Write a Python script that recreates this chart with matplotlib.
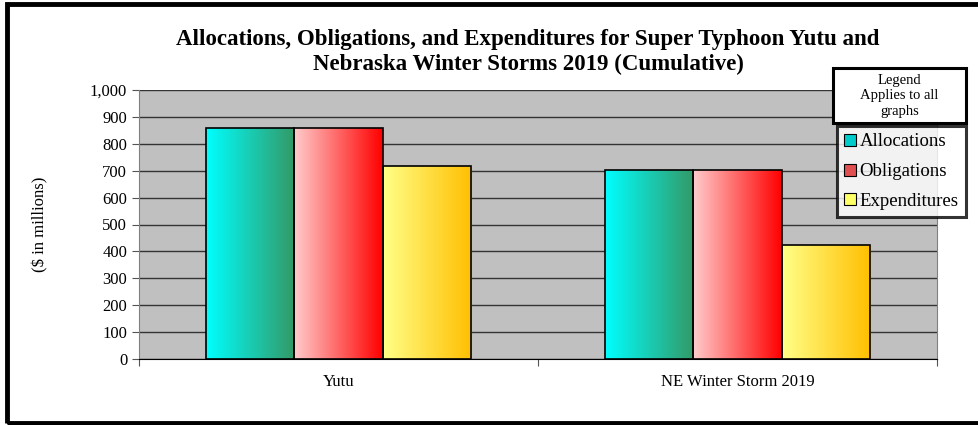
import numpy as np
from matplotlib import pyplot as plt
from matplotlib.patches import Patch, Rectangle
from matplotlib.colors import LinearSegmentedColormap

categories = ["Yutu", "NE Winter Storm 2019"]
series = ["Allocations", "Obligations", "Expenditures"]
allocations = [860, 704]
obligations = [860, 704]
expenditures = [716, 424]
yticks = [0, 100, 200, 300, 400, 500, 600, 700, 800, 900, 1000]

grads = [("#00ffff", "#339966"), ("#ffcccc", "#ff0000"), ("#ffff88", "#ffbf00")]
solid = ["#00cccc", "#e05050", "#ffff66"]

plt.rcParams['font.family'] = ['Liberation Serif', 'DejaVu Serif']

fig = plt.figure(figsize=(9.79, 4.25), dpi=100)
ax = fig.add_axes([139/979, 1-359/425, 798/979, 269/425])
ax.set_facecolor("#c0c0c0")

x = np.arange(len(categories))
w = 0.221
vals = [allocations, obligations, expenditures]
grad = np.linspace(0, 1, 256).reshape(1, -1)
for i, v in enumerate(vals):
    bars = ax.bar(x + (i - 1) * w, v, w, facecolor="none", edgecolor="black", linewidth=1.2, zorder=4)
    cmap = LinearSegmentedColormap.from_list("g%d" % i, grads[i])
    for b in bars:
        im = ax.imshow(grad, cmap=cmap, aspect="auto", zorder=3,
                       extent=[b.get_x(), b.get_x() + b.get_width(), 0, b.get_height()])
        im.set_clip_path(b)

ax.set_xlim(-0.5, 1.5)
ax.set_ylim(0, 1000)
ax.set_yticks(yticks)
ax.set_yticklabels(["{:,}".format(t) for t in yticks], fontsize=12)
ax.set_xticks([-0.5, 0.5, 1.5])
ax.set_xticklabels([])
ax.set_xticks(x, minor=True)
ax.set_xticklabels(categories, minor=True, fontsize=12)
ax.tick_params(axis="x", which="minor", length=0, pad=11)
ax.tick_params(axis="x", which="major", length=5, direction="out", color="#555555")
ax.tick_params(axis="y", length=5, direction="out", color="#555555")
ax.yaxis.grid(True, color="#333333", linewidth=1.0)
ax.set_axisbelow(True)
for s in ["left", "right", "top"]:
    ax.spines[s].set_color("#808080")
ax.spines["top"].set_visible(False)
ax.spines["bottom"].set_color("black")
ax.set_ylabel("($ in millions)", fontsize=12, labelpad=30)

fig.text(528/979, 1-40/425, "Allocations, Obligations, and Expenditures for Super Typhoon Yutu and",
         ha="center", va="center", fontsize=16.5, fontweight="bold")
fig.text(528/979, 1-64/425, "Nebraska Winter Storms 2019 (Cumulative)",
         ha="center", va="center", fontsize=16.5, fontweight="bold")

# outer border
fig.patches.append(Rectangle((7/979, 1-423/425), 975/979, 419/425, transform=fig.transFigure,
                             fill=False, edgecolor="black", linewidth=3.5, zorder=0))

# legend title box
fig.patches.append(Rectangle((833/979, 1-123/425), 133/979, 55/425, transform=fig.transFigure,
                             facecolor="white", edgecolor="black", linewidth=2.2, zorder=5))
fig.text(899.5/979, 1-96/425, "Legend\nApplies to all\ngraphs", ha="center", va="center",
         fontsize=10.5, linespacing=1.25, zorder=6)

handles = [Patch(facecolor=solid[i], edgecolor="black", linewidth=0.8) for i in range(3)]
leg = fig.legend(handles, series, loc="upper right", bbox_to_anchor=(966/979, 1-126/425),
                 fontsize=13.5, frameon=True, fancybox=False, edgecolor="black",
                 handlelength=0.6, handleheight=0.6, handletextpad=0.2,
                 labelspacing=0.68, borderpad=0.4, borderaxespad=0)
leg.get_frame().set_linewidth(2.2)

plt.savefig("out.png", dpi=100)
